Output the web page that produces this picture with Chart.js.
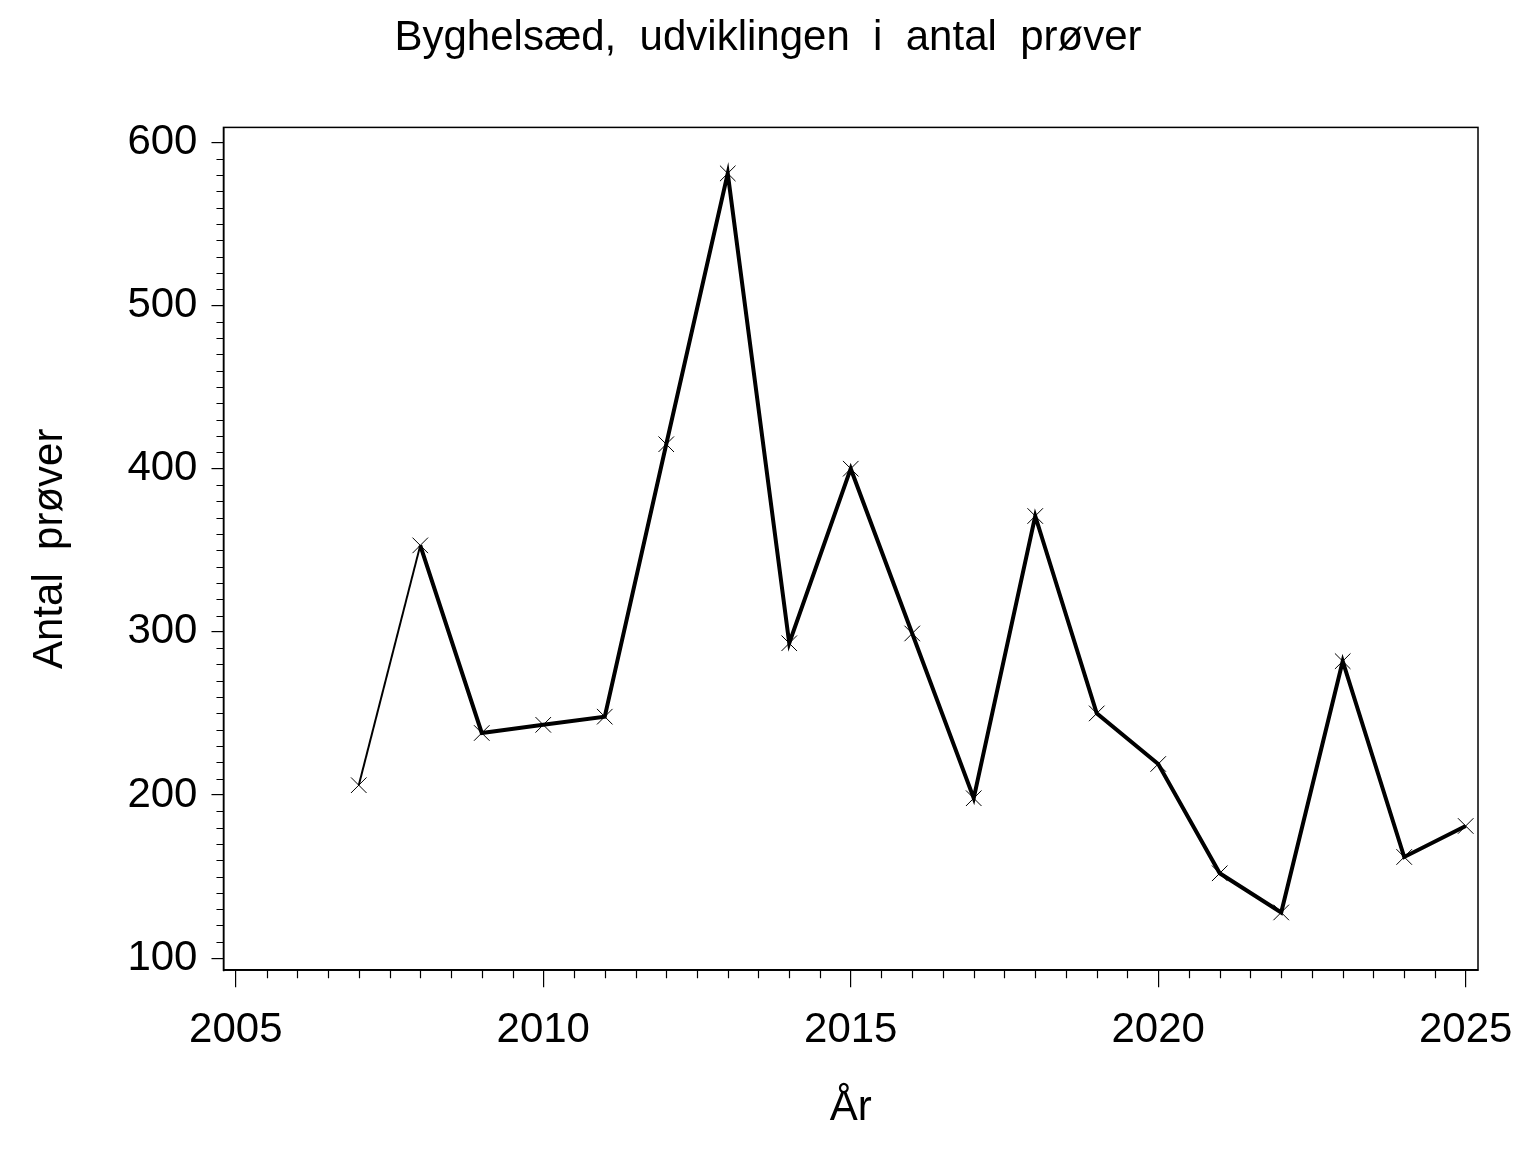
<!DOCTYPE html>
<html>
<head>
<meta charset="utf-8">
<script src="https://cdn.jsdelivr.net/npm/chart.js@4.4.1/dist/chart.umd.min.js"></script>
<style>
  html, body { margin: 0; padding: 0; background: #fff; }
  canvas { display: block; }
</style>
</head>
<body>
<canvas id="graph1" width="1536" height="1152"></canvas>
<script>
// values
var years = [2007, 2008, 2009, 2010, 2011, 2012, 2013, 2014, 2015, 2016, 2017, 2018, 2019, 2020, 2021, 2022, 2023, 2024, 2025];
var antalProver = [206, 353, 238, 243, 248, 415, 581, 293, 400, 299, 198, 371, 250, 219, 152, 128, 282, 162, 181];
var xTickLabels = [2005, 2010, 2015, 2020, 2025];
var yTickLabels = [100, 200, 300, 400, 500, 600];

var fontName = '"Liberation Sans", Arial, Helvetica, sans-serif';

var points = years.map(function (y, i) { return { x: y, y: antalProver[i] }; });

// frame + minor tick marks, placed through the chart scales
var minorTicks = {
    id: 'minorTicks',
    afterDraw: function (chart) {
        var c = chart.ctx, a = chart.chartArea;
        var xs = chart.scales.x, ys = chart.scales.y;
        c.save();
        c.strokeStyle = '#000';
        c.lineWidth = 1.5;
        c.strokeRect(a.left, a.top, a.right - a.left, a.bottom - a.top);
        c.lineWidth = 1.2;
        c.beginPath();
        for (var v = xTickLabels[0]; v <= xTickLabels[xTickLabels.length - 1]; v += 0.5) {
            if (v % 5 === 0) continue;
            var px = Math.round(xs.getPixelForValue(v)) + 0.5;
            c.moveTo(px, a.bottom);
            c.lineTo(px, a.bottom + 8);
        }
        for (var w = yTickLabels[0]; w <= yTickLabels[yTickLabels.length - 1]; w += 10) {
            if (w % 100 === 0) continue;
            var py = Math.round(ys.getPixelForValue(w)) + 0.5;
            c.moveTo(a.left - 7, py);
            c.lineTo(a.left, py);
        }
        c.stroke();
        c.restore();
    }
};

var ctx = document.getElementById('graph1').getContext('2d');
var config = {
    type: 'line',
    data: {
        datasets: [{
            label: 'Antal prøver',
            data: points,
            borderColor: '#000',
            borderWidth: 4,
            tension: 0,
            fill: false,
            pointStyle: 'crossRot',
            pointRadius: 11,
            pointBorderWidth: 1,
            pointBorderColor: '#000',
            segment: {
                borderWidth: function (s) { return s.p0DataIndex === 0 ? 2 : 4; }
            }
        }]
    },
    plugins: [minorTicks],
    options: {
        responsive: false,
        animation: false,
        layout: { padding: { left: 25, right: 25, top: 0, bottom: 18 } },
        plugins: {
            legend: { display: false },
            tooltip: { enabled: false },
            title: {
                display: true,
                text: 'Byghelsæd,  udviklingen  i  antal  prøver',
                color: '#000',
                font: { family: fontName, size: 42, weight: 'normal' },
                padding: { top: 13, bottom: 64 }
            }
        },
        scales: {
            x: {
                type: 'linear',
                min: 2004.8,
                max: 2025.2,
                afterBuildTicks: function (scale) {
                    scale.ticks = xTickLabels.map(function (v) { return { value: v }; });
                },
                ticks: {
                    color: '#000',
                    font: { family: fontName, size: 42 },
                    padding: 18,
                    maxRotation: 0,
                    autoSkip: false,
                    callback: function (v) { return String(v); }
                },
                grid: { drawOnChartArea: false, color: '#000', lineWidth: 1.2, tickLength: 17 },
                border: { display: true, color: '#000', width: 1.5 },
                title: {
                    display: true,
                    text: 'År',
                    color: '#000',
                    font: { family: fontName, size: 42 },
                    padding: { top: 10, bottom: 0 }
                }
            },
            y: {
                type: 'linear',
                min: 92.6,
                max: 609.2,
                afterBuildTicks: function (scale) {
                    scale.ticks = yTickLabels.map(function (v) { return { value: v }; });
                },
                ticks: {
                    color: '#000',
                    font: { family: fontName, size: 42 },
                    padding: 14,
                    autoSkip: false,
                    callback: function (v) { return String(v); }
                },
                grid: { drawOnChartArea: false, color: '#000', lineWidth: 1.2, tickLength: 12 },
                border: { display: true, color: '#000', width: 1.5 },
                title: {
                    display: true,
                    text: 'Antal  prøver',
                    color: '#000',
                    font: { family: fontName, size: 42 },
                    padding: { top: 0, bottom: 38 }
                }
            },
            // empty right margin so the title stays centred on the page
            yRight: {
                position: 'right',
                display: true,
                ticks: { display: false },
                grid: { display: false },
                border: { display: false },
                afterFit: function (scale) { scale.width = 33; }
            }
        }
    }
};
var graph1 = new Chart(ctx, config);
</script>
</body>
</html>
